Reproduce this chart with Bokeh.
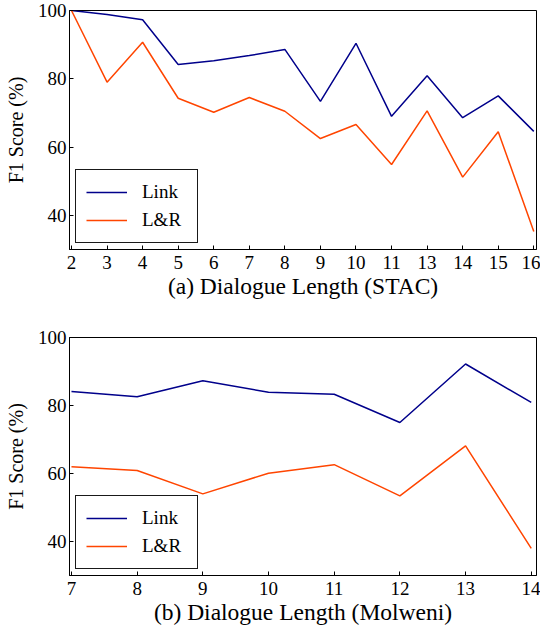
from bokeh.plotting import figure
from bokeh.layouts import column
from bokeh.models import Range1d, FixedTicker, Legend, LegendItem
from bokeh.embed import file_html
from bokeh.resources import INLINE

# ---- data ----
stac_lengths = ["2", "3", "4", "5", "6", "7", "8", "9", "10", "11", "13", "14", "15", "16"]
stac_link = [100.0, 98.8, 97.3, 84.2, 85.3, 86.8, 88.6, 73.4, 90.4, 69.0, 80.9, 68.6, 75.0, 64.6]
stac_lr = [100.0, 79.0, 90.7, 74.3, 70.2, 74.5, 70.5, 62.5, 66.6, 54.9, 70.6, 51.2, 64.5, 35.3]

molweni_lengths = [7, 8, 9, 10, 11, 12, 13, 14]
molweni_link = [84.1, 82.6, 87.3, 83.9, 83.3, 75.0, 92.2, 80.9]
molweni_lr = [62.0, 60.9, 54.0, 60.1, 62.6, 53.4, 68.1, 38.0]

y_ticks = [40, 60, 80, 100]
series_names = ["Link", "L&R"]
colors = ["#00008B", "#FF4500"]
FONT = "Liberation Serif"


def style(p, xlabel):
    p.outline_line_color = "black"
    p.outline_line_width = 1
    p.xgrid.visible = False
    p.ygrid.visible = False
    p.background_fill_color = "white"
    p.border_fill_color = "white"
    for ax in (p.xaxis[0], p.yaxis[0]):
        ax.axis_line_color = "black"
        ax.axis_line_width = 1
        ax.major_tick_in = 4
        ax.major_tick_out = 0
        ax.minor_tick_in = 0
        ax.minor_tick_out = 0
        ax.major_tick_line_color = "black"
        ax.major_label_text_font = FONT
        ax.major_label_text_font_size = "19px"
        ax.major_label_text_color = "black"
        ax.axis_label_text_font = FONT
        ax.axis_label_text_font_style = "normal"
        ax.axis_label_text_color = "black"
    p.xaxis[0].axis_label = xlabel
    p.xaxis[0].axis_label_text_font_size = "23.5px"
    p.xaxis[0].major_label_standoff = 6
    p.xaxis[0].axis_label_standoff = 1
    p.yaxis[0].axis_label = "F1 Score (%)"
    p.yaxis[0].axis_label_text_font_size = "20px"
    p.yaxis[0].major_label_standoff = 3
    p.yaxis[0].axis_label_standoff = 8
    p.yaxis[0].ticker = FixedTicker(ticks=y_ticks)


def add_legend(p, r1, r2):
    leg = Legend(items=[LegendItem(label=series_names[0], renderers=[r1]),
                        LegendItem(label=series_names[1], renderers=[r2])],
                 location=(6, 6))
    leg.label_text_font = FONT
    leg.label_text_font_size = "19px"
    leg.label_text_color = "black"
    leg.border_line_color = "black"
    leg.border_line_width = 1.3
    leg.border_line_alpha = 0.9
    leg.background_fill_alpha = 1
    leg.padding = 10
    leg.spacing = 4
    leg.glyph_width = 41
    leg.glyph_height = 24
    leg.label_height = 24
    leg.label_width = 45
    leg.label_standoff = 15
    leg.margin = 0
    p.add_layout(leg, "center")


# ---- top chart (STAC) ----
xs = list(range(len(stac_lengths)))
p1 = figure(width=540, height=318, output_backend="svg", toolbar_location=None,
            x_range=Range1d(-0.056, len(stac_lengths) - 1 + 0.076), y_range=Range1d(30, 100),
            min_border_left=69, min_border_right=4, min_border_top=10, min_border_bottom=69)
a1 = p1.line(xs, stac_link, line_color=colors[0], line_width=1.5)
b1 = p1.line(xs, stac_lr, line_color=colors[1], line_width=1.5)
style(p1, "(a) Dialogue Length (STAC)")
p1.xaxis[0].ticker = FixedTicker(ticks=xs)
p1.xaxis[0].major_label_overrides = {i: s for i, s in enumerate(stac_lengths)}
add_legend(p1, a1, b1)

# ---- bottom chart (Molweni) ----
p2 = figure(width=540, height=312, output_backend="svg", toolbar_location=None,
            x_range=Range1d(molweni_lengths[0] - 0.03, molweni_lengths[-1] + 0.08),
            y_range=Range1d(30, 100),
            min_border_left=69, min_border_right=4, min_border_top=19, min_border_bottom=55)
a2 = p2.line(molweni_lengths, molweni_link, line_color=colors[0], line_width=1.5)
b2 = p2.line(molweni_lengths, molweni_lr, line_color=colors[1], line_width=1.5)
style(p2, "(b) Dialogue Length (Molweni)")
p2.xaxis[0].ticker = FixedTicker(ticks=molweni_lengths)
add_legend(p2, a2, b2)

layout = column(p1, p2, spacing=0)
open("out.html", "w").write(file_html(layout, INLINE))
